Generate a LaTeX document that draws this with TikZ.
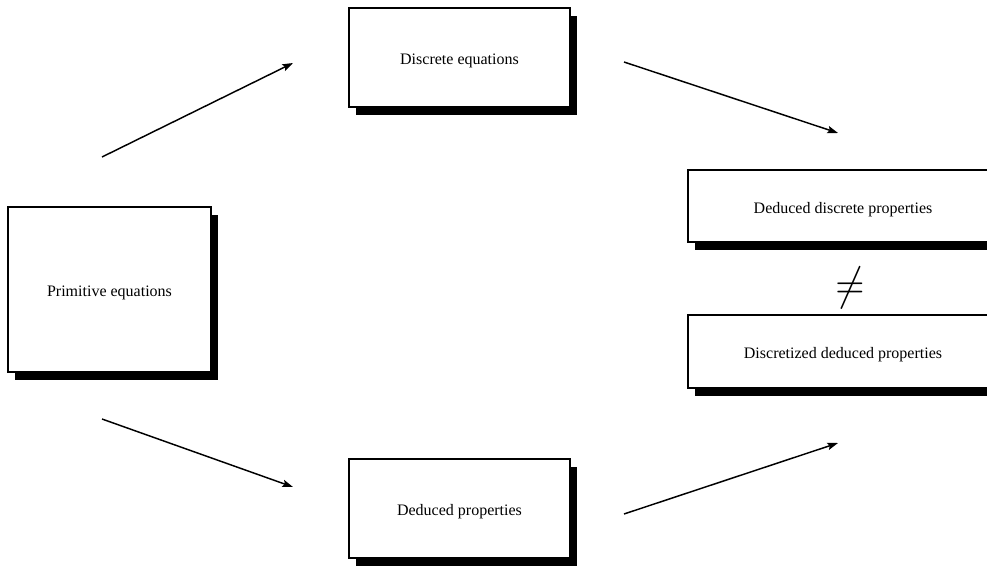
\documentclass[tikz,border=0pt]{standalone}
\usepackage{fontspec}
\setmainfont{Liberation Serif}
\usetikzlibrary{arrows.meta,shadows}
\begin{document}
\begin{tikzpicture}[x=0.75pt,y=-0.75pt,
  box/.style={draw=black, line width=0.9pt, fill=white, rectangle, inner sep=0pt,
    font=\fontsize{12}{14}\selectfont, text height=11pt, text depth=0pt,
    drop shadow={shadow xshift=5.25pt, shadow yshift=-6pt, fill=black, opacity=1}},
  arr/.style={line width=1.1pt, -{Stealth[length=8pt,width=5.5pt,inset=1.5pt]}}]
\useasboundingbox (0,0) rectangle (987,566);
\clip (0,0) rectangle (987,566);
\node[box, minimum width=221*0.75pt, minimum height=99*0.75pt] (disc) at (459.5,57.5) {Discrete equations};
\node[box, minimum width=203*0.75pt, minimum height=165*0.75pt] (prim) at (109.5,289.5) {Primitive equations};
\node[box, minimum width=221*0.75pt, minimum height=99*0.75pt] (dprop) at (459.5,508.5) {Deduced properties};
\node[box, minimum width=310*0.75pt, minimum height=72*0.75pt] (ddp) at (843,206) {Deduced discrete properties};
\node[box, minimum width=310*0.75pt, minimum height=73*0.75pt] (dzp) at (843,351.5) {Discretized deduced properties};
\node[font=\fontsize{24}{24}\selectfont, inner sep=0pt, xscale=1.2, yscale=1.4] (neq) at (850,288) {$\neq$};
\coordinate (a1s) at (102,157); \coordinate (a1e) at (293,63);
\coordinate (a2s) at (624,62);  \coordinate (a2e) at (838,133);
\coordinate (a3s) at (102,419); \coordinate (a3e) at (293,487);
\coordinate (a4s) at (624,514); \coordinate (a4e) at (838,443);
\draw[arr] (a1s) -- (a1e);
\draw[arr] (a2s) -- (a2e);
\draw[arr] (a3s) -- (a3e);
\draw[arr] (a4s) -- (a4e);
\end{tikzpicture}
\end{document}
